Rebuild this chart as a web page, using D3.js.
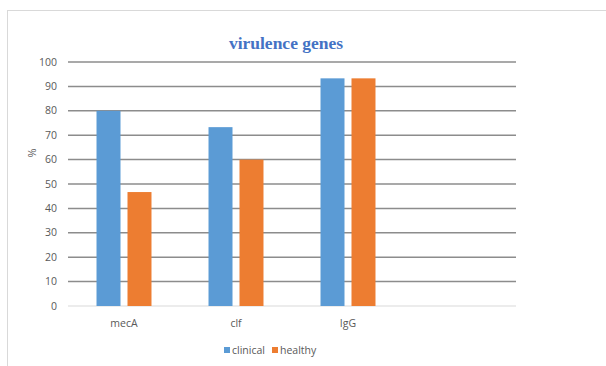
<!DOCTYPE html>
<html><head><meta charset="utf-8">
<script src="https://cdn.jsdelivr.net/npm/d3@7"></script>
<style>body{margin:0;background:#fff}svg{display:block}</style>
</head><body>
<script>
const categories = ["mecA", "clf", "IgG", ""];
const seriesNames = ["clinical", "healthy"];
const clinical = [80, 73.3, 93.3, null];
const healthy = [46.7, 60, 93.3, null];
const yTicks = [0, 10, 20, 30, 40, 50, 60, 70, 80, 90, 100];
const colors = ["#5B9BD5", "#ED7D31"];

const W = 606, H = 366;
const svg = d3.select("body").append("svg").attr("width", W).attr("height", H);
svg.append("rect").attr("x", 7.5).attr("y", 10.5).attr("width", 610).attr("height", 400)
  .attr("fill", "#fff").attr("stroke", "#d9d9d9").attr("stroke-width", 1);

const m = {left: 68, right: 516, top: 62, bottom: 306};
const x = d3.scaleBand().domain(d3.range(categories.length)).range([m.left, m.right]);
const y = d3.scaleLinear().domain([0, 100]).range([m.bottom, m.top]);
const inner = d3.scaleBand().domain([0, 1]).range([0, x.bandwidth()]).paddingInner(0.226).paddingOuter(0.92);

// gridlines
svg.append("g").selectAll("line").data(yTicks.filter(d => d > 0)).join("line")
  .attr("x1", m.left).attr("x2", m.right).attr("y1", d => y(d)).attr("y2", d => y(d))
  .attr("stroke", "#8c8c8c").attr("stroke-width", 1.5);
svg.append("line").attr("x1", m.left).attr("x2", m.right).attr("y1", y(0)).attr("y2", y(0))
  .attr("stroke", "#d9d9d9").attr("stroke-width", 1);

// y tick labels
svg.append("g").selectAll("text").data(yTicks).join("text")
  .attr("x", 57).attr("y", d => y(d)).attr("dy", "0.35em").attr("text-anchor", "end")
  .attr("font-family", "Open Sans, sans-serif").attr("font-size", 10.5).attr("fill", "#595959")
  .text(d => d);

// bars
const series = [clinical, healthy];
series.forEach((vals, si) => {
  svg.append("g").selectAll("rect").data(vals.map((v, i) => ({v, i})).filter(d => d.v != null)).join("rect")
    .attr("x", d => x(d.i) + inner(si)).attr("width", inner.bandwidth())
    .attr("y", d => y(d.v)).attr("height", d => y(0) - y(d.v))
    .attr("fill", colors[si]);
});

// category labels
svg.append("g").selectAll("text").data(categories).join("text")
  .attr("x", (d, i) => x(i) + x.bandwidth() / 2).attr("y", 327).attr("text-anchor", "middle")
  .attr("font-family", "Open Sans, sans-serif").attr("font-size", 10.5).attr("fill", "#595959")
  .text(d => d);

// title
svg.append("text").attr("x", 286).attr("y", 49).attr("text-anchor", "middle")
  .attr("font-family", "Liberation Serif, serif").attr("font-weight", "bold").attr("font-size", 17.5)
  .attr("fill", "#4472C4").text("virulence genes");

// axis title
svg.append("text").attr("transform", "translate(36,153) rotate(-90)").attr("text-anchor", "middle")
  .attr("font-family", "Open Sans, sans-serif").attr("font-size", 11).attr("fill", "#595959").text("%");

// legend
const legX = [224, 272];
seriesNames.forEach((n, i) => {
  svg.append("rect").attr("x", legX[i]).attr("y", 347).attr("width", 6).attr("height", 6).attr("fill", colors[i]);
  svg.append("text").attr("x", legX[i] + 8).attr("y", 354)
    .attr("font-family", "Open Sans, sans-serif").attr("font-size", 10.5).attr("fill", "#595959").text(n);
});
</script>
</body></html>
